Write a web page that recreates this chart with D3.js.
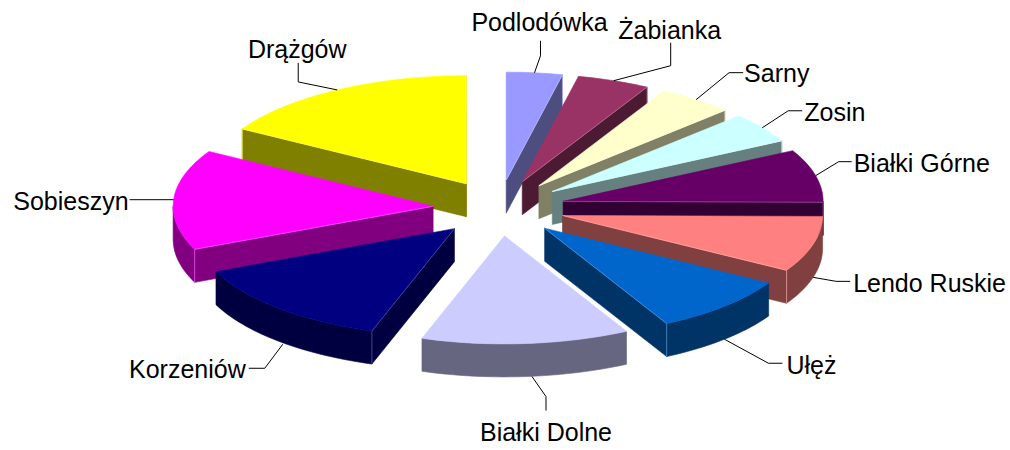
<!DOCTYPE html>
<html>
<head>
<meta charset="utf-8">
<script src="https://cdn.jsdelivr.net/npm/d3@7"></script>
<style>
  html, body { margin: 0; padding: 0; background: #fff; }
  svg { display: block; }
  text { font-family: "Liberation Sans", Arial, sans-serif; font-size: 25px; fill: #000; }
</style>
</head>
<body>
<svg id="pie" width="1010" height="450"></svg>
<script>
const categories = ['Podlodówka', 'Żabianka', 'Sarny', 'Zosin', 'Białki Górne', 'Lendo Ruskie',
  'Ułęż', 'Białki Dolne', 'Korzeniów', 'Sobieszyn', 'Drążgów'];
const values = [12.5, 16.2, 17, 16.3, 28.5, 30, 31.5, 46.5, 48, 54, 59.5];
const colors = ['#9999ff', '#993366', '#ffffcc', '#ccffff', '#660066', '#ff8080',
  '#0066cc', '#ccccff', '#000080', '#ff00ff', '#ffff00'];

const svg = d3.select('#pie');

const cx = 499;
const cy = 208;
const rx = 260;
const ry = 108;
const explodeX = 66;
const explodeY = 28;
const depth = 33;

// leader bends, relative to where the leader leaves the slice, and where the text sits
const leaders = {
  'Podlodówka': { bends: [[6, -17], [6, -32]], anchor: 'middle', text: [-1, -10] },
  'Żabianka': { bends: [[57, -15], [57, -38]], anchor: 'middle', text: [-1, -4] },
  'Sarny': { bends: [[33, -27], [47, -27]], anchor: 'start', text: [1, 9] },
  'Zosin': { bends: [[26, -17], [40, -17]], anchor: 'start', text: [2, 10] },
  'Białki Górne': { bends: [[23, -14], [36, -14]], anchor: 'start', text: [2, 10] },
  'Lendo Ruskie': { bends: [[23, 4], [37, 4]], anchor: 'start', text: [3, 11] },
  'Ułęż': { bends: [[44, 24], [58, 24]], anchor: 'start', text: [4, 11] },
  'Białki Dolne': { start: [6, 0], bends: [[14, 20], [14, 34]], anchor: 'middle', text: [0, 30] },
  'Korzeniów': { start: [4, 3], bends: [[-18, 24], [-34, 24]], anchor: 'end', text: [-3, 10] },
  'Sobieszyn': { bends: [[-44, 0]], anchor: 'end', text: [-1, 10] },
  'Drążgów': { bends: [[-39, -8], [-39, -27]], anchor: 'middle', text: [-1, -5] },
};

const pie = d3.pie().sort(null).value(d => d.value);
const slices = pie(categories.map((name, i) => ({ name, value: values[i], color: colors[i] })));

const line = d3.line();

// angle is measured clockwise from the top, like d3.pie
const rimPoint = (a, o, z = 0) => [o[0] + rx * Math.sin(a), o[1] - ry * Math.cos(a) + z];

const drawFace = (g, pts, fill, stroke) => {
  g.append('path')
    .attr('d', `${line(pts)}Z`)
    .attr('fill', fill)
    .attr('stroke', stroke || fill)
    .attr('stroke-width', 0.6)
    .attr('stroke-linejoin', 'round');
};

const arcPoints = (a0, a1, o, z = 0) => {
  const n = Math.max(2, Math.ceil((a1 - a0) / 0.03));
  return d3.range(n + 1).map(i => rimPoint(a0 + ((a1 - a0) * i) / n, o, z));
};

// far slices first, so that the near ones cover them
const topDistance = (d) => {
  const mid = (d.startAngle + d.endAngle) / 2;
  return Math.min(mid, (2 * Math.PI) - mid);
};

slices.slice().sort((a, b) => topDistance(a) - topDistance(b)).forEach((d) => {
  const mid = (d.startAngle + d.endAngle) / 2;
  const o = [cx + (explodeX * Math.sin(mid)), cy - (explodeY * Math.cos(mid))];
  const down = [o[0], o[1] + depth];
  const g = svg.append('g').attr('class', 'slice');

  const c = d3.rgb(d.data.color);
  const side = d3.rgb(c.r * 0.5, c.g * 0.5, c.b * 0.5).formatHex();

  // cut walls
  if (Math.sin(d.startAngle) < 0) {
    drawFace(g, [o, rimPoint(d.startAngle, o), rimPoint(d.startAngle, o, depth), down], side);
  }
  if (Math.sin(d.endAngle) > 0) {
    drawFace(g, [o, rimPoint(d.endAngle, o), rimPoint(d.endAngle, o, depth), down], side);
  }

  // outer wall, only the part that faces us
  const a0 = Math.max(d.startAngle, Math.PI / 2);
  const a1 = Math.min(d.endAngle, 1.5 * Math.PI);
  if (a1 > a0) {
    drawFace(g, arcPoints(a0, a1, o).concat(arcPoints(a0, a1, o, depth).reverse()), side);
  }

  // top
  const edge = d3.interpolateRgb(d.data.color, '#fff')(0.35);
  drawFace(g, [o].concat(arcPoints(d.startAngle, d.endAngle, o)), d.data.color);

  // thin light line along the front corner
  const corners = [];
  if (Math.sin(d.startAngle) < 0) corners.push(d.startAngle);
  if (Math.sin(d.endAngle) > 0) corners.push(d.endAngle);
  corners.forEach((a) => {
    g.append('path')
      .attr('d', line([o, rimPoint(a, o), rimPoint(a, o, depth)]))
      .attr('fill', 'none')
      .attr('stroke', edge)
      .attr('stroke-width', 0.7);
  });
});

// leader lines and labels
slices.forEach((d) => {
  const mid = (d.startAngle + d.endAngle) / 2;
  const o = [cx + (explodeX * Math.sin(mid)), cy - (explodeY * Math.cos(mid))];
  const l = leaders[d.data.name];
  const rim = rimPoint(mid, o, Math.cos(mid) < 0 ? depth : 0);
  const start = l.start ? [rim[0] + l.start[0], rim[1] + l.start[1]] : rim;
  const pts = [start].concat(l.bends.map(b => [start[0] + b[0], start[1] + b[1]]));
  const end = pts[pts.length - 1];

  svg.append('path')
    .attr('d', line(pts))
    .attr('fill', 'none')
    .attr('stroke', '#000')
    .attr('stroke-width', 1);

  svg.append('text')
    .attr('x', end[0] + l.text[0])
    .attr('y', end[1] + l.text[1])
    .attr('text-anchor', l.anchor)
    .text(d.data.name);
});
</script>
</body>
</html>
